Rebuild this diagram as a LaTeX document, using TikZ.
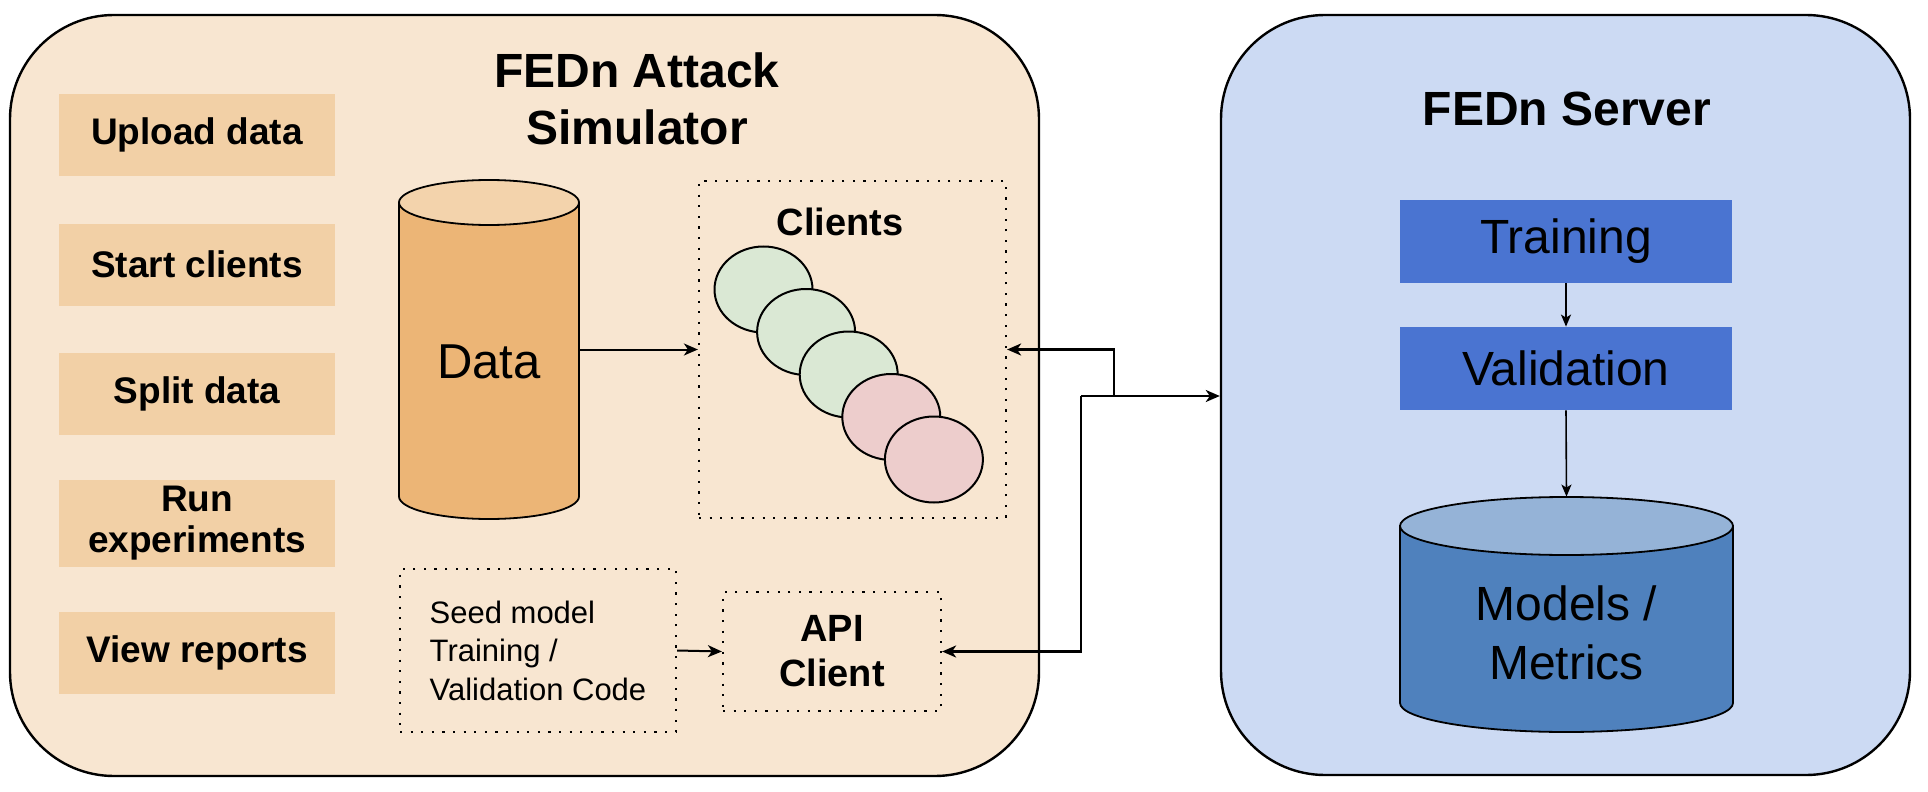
\documentclass[tikz,border=0pt]{standalone}
\usepackage{fontspec}
\setmainfont{Liberation Sans}
\usetikzlibrary{arrows.meta, positioning, shapes.geometric}
\definecolor{simbg}{RGB}{248,230,209}
\definecolor{btnbg}{RGB}{242,208,166}
\definecolor{databody}{RGB}{236,181,118}
\definecolor{datatop}{RGB}{243,211,172}
\definecolor{clgreen}{RGB}{218,232,212}
\definecolor{clpink}{RGB}{237,205,204}
\definecolor{srvbg}{RGB}{204,218,243}
\definecolor{stepblue}{RGB}{74,116,209}
\definecolor{dbbody}{RGB}{79,129,189}
\definecolor{dbtop}{RGB}{149,179,215}
\tikzset{
    panel/.style={draw, line width=1.2pt, rounded corners=52pt, inner sep=0pt},
    title/.style={align=center, font=\fontsize{24}{28.5}\selectfont\bfseries},
    btn/.style={fill=btnbg, minimum width=138pt, minimum height=41pt, align=center,
        font=\fontsize{18.5}{20.5}\selectfont\bfseries},
    dotbox/.style={draw, line width=1.1pt, dash pattern=on 1.1pt off 4.2pt},
    client/.style={draw, ellipse, line width=1pt, minimum width=49pt, minimum height=43pt, inner sep=0pt},
    conn/.style={line width=1.1pt, -{Stealth[length=7pt,width=6pt,inset=2pt]}},
    thinconn/.style={line width=0.8pt, -{Stealth[length=6pt,width=5pt,inset=1.5pt]}},
    stepbox/.style={fill=stepblue, minimum width=166pt, minimum height=41.5pt,
        font=\fontsize{24}{28}\selectfont},
}
% cylinder: centre x, top, bottom, x radius, y radius, body colour, lid colour
\newcommand{\drawdrum}[7]{%
    \draw[line width=0.9pt, fill=#6] (#1+#4,#2+#5) -- (#1+#4,#3-#5)
        arc[start angle=0, end angle=180, x radius=#4, y radius=#5] -- (#1-#4,#2+#5) -- cycle;
    \draw[line width=0.9pt, fill=#7] (#1,#2+#5) ellipse[x radius=#4, y radius=#5];
}
\begin{document}
\begin{tikzpicture}[x=0.5pt, y=-0.5pt]
    \useasboundingbox (0,0) rectangle (1928,792);
    % the two panels
    \node[panel, fill=simbg, minimum width=514.5pt, minimum height=380.5pt] (sim) at (524.5,395.5) {};
    \node[panel, fill=srvbg, minimum width=344.5pt, minimum height=380pt] (srv) at (1565.5,395) {};
    \node[title] (simtitle) at (637,98.5) {FEDn Attack\\Simulator};
    \node[title] (srvtitle) at (1567,109) {FEDn Server};
    % menu
    \node[btn] (b1) at (197,135) {Upload data};
    \node[btn] (b2) at (197,264.5) {Start clients};
    \node[btn] (b3) at (197,394) {Split data};
    \node[btn] (b4) at (197,523.5) {Run\\experiments};
    \node[btn] (b5) at (197,653) {View reports};
    % data store
    \drawdrum{489}{180}{519}{90}{22.5}{databody}{datatop}
    \node[minimum width=90pt, minimum height=169.5pt] (data) at (489,349.5) {};
    \node[font=\fontsize{24.5}{29}\selectfont] (datalbl) at (489,362) {Data};
    % clients
    \node[dotbox, minimum width=153.5pt, minimum height=168.5pt] (cl) at (852.5,349.5) {};
    \node[font=\fontsize{19}{23}\selectfont\bfseries] (cltitle) at (840,222) {Clients};
    \foreach \i/\c in {1/clgreen,2/clgreen,3/clgreen,4/clpink,5/clpink}
        \node[client, fill=\c] (c\i) at ({763.5+42.6*(\i-1)},{289.5+42.5*(\i-1)}) {};
    \draw[conn, line width=1pt] (data.east) -- (cl.west);
    % seed model and api client
    \node[dotbox, minimum width=138pt, minimum height=81.5pt, align=left,
        font=\fontsize{15.5}{19.25}\selectfont] (seed) at (538,650.5)
        {Seed model\\Training /\\Validation Code};
    \node[dotbox, minimum width=109pt, minimum height=59.5pt, align=center,
        font=\fontsize{19}{22.5}\selectfont\bfseries] (api) at (832,651.5) {API\\Client};
    \draw[conn, line width=1pt] (seed.east) -- (api.west);
    % server side
    \node[stepbox] (tr) at (1566,241.5) {Training};
    \node[stepbox] (va) at (1566,368.5) {Validation};
    \drawdrum{1566.5}{497}{732}{166.5}{29}{dbbody}{dbtop}
    \node[minimum width=166.5pt, minimum height=117.5pt] (mm) at (1566.5,614.5) {};
    \node[align=center, font=\fontsize{24}{29.5}\selectfont] (mmlbl) at (1566.5,632.5) {Models /\\Metrics};
    \draw[thinconn] (tr.south) -- (va.north);
    \draw[thinconn] (va.south) -- (mm.north);
    % links between simulator and server
    \coordinate (jl) at (1081,396);
    \coordinate (jr) at (1114,396);
    \draw[conn] (jl) -- (jl -| srv.west);
    \draw[conn] (jr) |- (cl.east);
    \draw[conn] (jl) |- (api.east);
\end{tikzpicture}
\end{document}
